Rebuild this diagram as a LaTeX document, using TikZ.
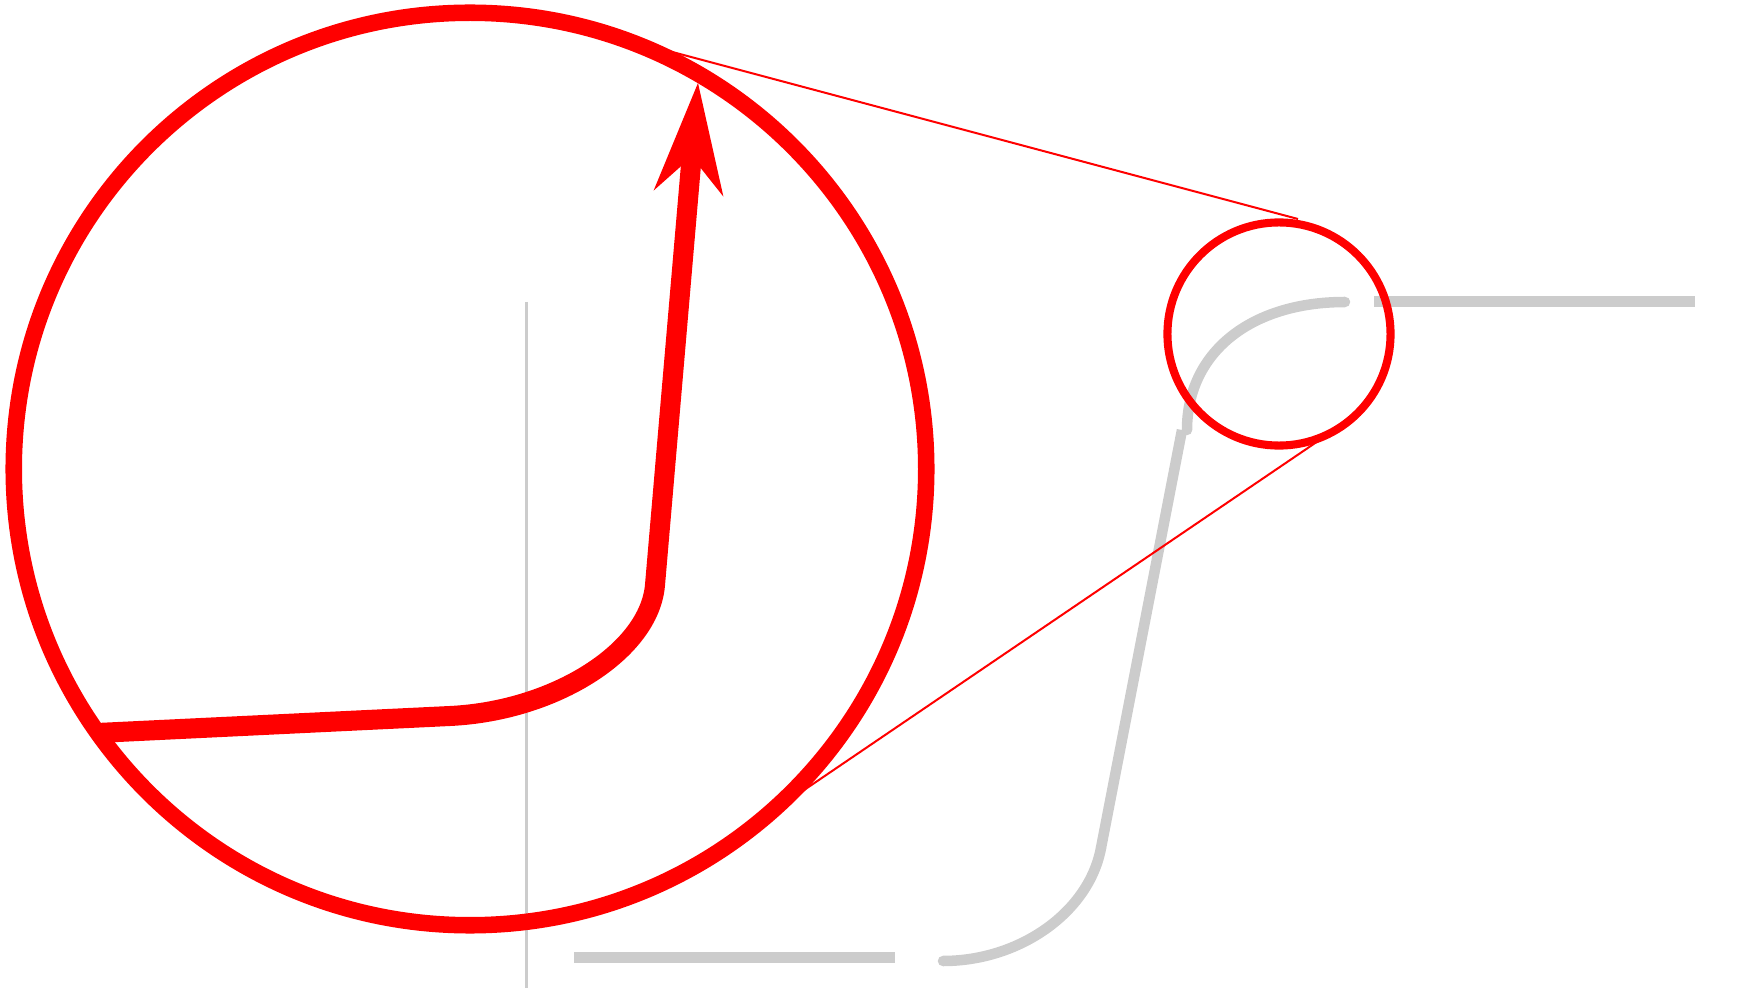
\documentclass[tikz,border=0pt]{standalone}
\definecolor{spyred}{RGB}{255,0,0}
\definecolor{curvegray}{RGB}{204,204,204}
\begin{document}
\begin{tikzpicture}[x=0.01cm,y=-0.01cm,
  graythick/.style={draw=curvegray, line width=2.99pt},
  graythin/.style={draw=curvegray, line width=0.94pt},
  redpath/.style={draw=spyred, line width=5.69pt},
  bigring/.style={draw=spyred, line width=4.7pt},
  smallring/.style={draw=spyred, line width=2.3pt},
  connline/.style={draw=spyred, line width=0.57pt}]
\useasboundingbox (0,0) rectangle (1756,988);
\coordinate (bigc) at (470,469);
\coordinate (smallc) at (1279,334);
% gray drawing
\draw[graythin] (526.3,302) -- (526.3,995);
\draw[graythick] (574,957.5) -- (895,957.5);
\draw[graythick] (1374,301.5) -- (1695,301.5);
\draw[graythick, line cap=round] (943,961) .. controls (1020,961) and (1089,912) .. (1101,848);
\draw[graythick] (1101,848) -- (1182,430);
\draw[graythick, line cap=round] (1187,430) .. controls (1187,353) and (1250,302) .. (1345,302);
% magnified red path
\begin{scope}
  \clip (bigc) circle[radius=4.56cm];
  \draw[redpath] (60,734.8) -- (450,716) .. controls (555,711) and (649.4,651) .. (655,585) -- (692.7,145);
  \fill[spyred] (698,83) -- (723.4,196.6) -- (691.7,156.7) -- (653.6,190.6) -- cycle;
\end{scope}
% rings
\draw[bigring] (bigc) circle[radius=4.56cm];
\draw[smallring] (smallc) circle[radius=1.115cm];
% connection lines
\coordinate (t1) at (590,30);
\coordinate (t2) at (1298,219);
\coordinate (b1) at (724,844.4);
\coordinate (b2) at (1338,427.5);
\draw[connline] (t1) -- (t2);
\draw[connline] (b1) -- (b2);
\end{tikzpicture}
\end{document}
